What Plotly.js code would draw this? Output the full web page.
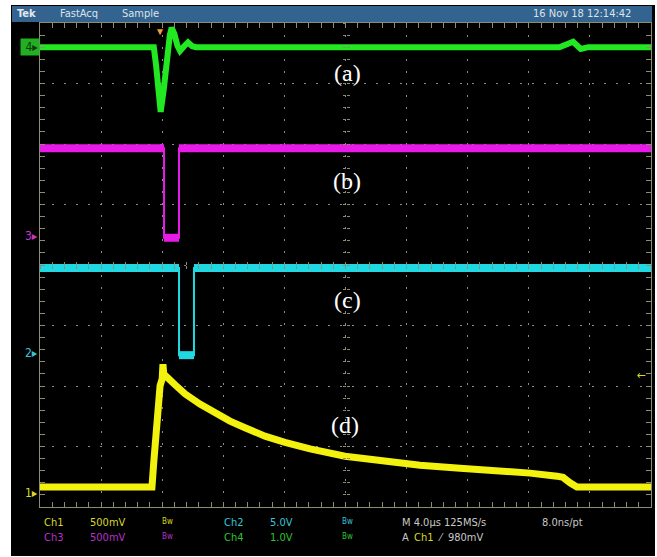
<!DOCTYPE html>
<html>
<head>
<meta charset="utf-8">
<script src="https://cdn.plot.ly/plotly-3.0.1.min.js"></script>
<style>html,body{margin:0;padding:0;background:#fff;}#chart{width:657px;height:557px;}</style>
</head>
<body>
<div id="chart"></div>
<script>
// Time axis: microseconds from the left edge of the screen (4.0 us/div, 10 div)
// Vertical axis: screen divisions from the bottom (8 div)

// (a) Ch4 - green
const ch4Time = [0, 7.45, 7.6, 7.75, 7.9, 8.1, 8.3, 8.5, 8.62, 8.8, 9.0, 9.17, 9.45, 9.69, 9.95, 10.2, 34.0, 34.5, 34.9, 35.4, 35.9, 40];
const ch4Div  = [7.6, 7.6, 7.3, 6.9, 6.53, 6.9, 7.4, 7.8, 7.92, 7.82, 7.62, 7.54, 7.62, 7.68, 7.62, 7.6, 7.6, 7.66, 7.69, 7.57, 7.6, 7.6];

// (b) Ch3 - magenta
const ch3Time = [0, 8.12, 8.12, 9.10, 9.10, 40];
const ch3Div  = [5.93, 5.93, 4.45, 4.45, 5.93, 5.93];

// (c) Ch2 - cyan
const ch2Time = [0, 9.10, 9.10, 10.08, 10.08, 40];
const ch2Div  = [3.95, 3.95, 2.51, 2.51, 3.95, 3.95];

// (d) Ch1 - yellow
const ch1Time = [0, 7.33, 7.45, 7.65, 7.86, 8.0, 8.05, 8.12, 8.18, 8.84, 9.49, 10.47, 11.46, 12.44, 13.42, 14.73, 16.04, 17.68, 19.97, 22.26, 24.88, 27.50, 30.12, 32.08, 33.85, 34.24, 34.70, 35.15, 40];
const ch1Div  = [0.33, 0.33, 0.75, 1.45, 2.0, 2.12, 2.36, 2.14, 2.18, 2.02, 1.87, 1.70, 1.55, 1.42, 1.31, 1.17, 1.07, 0.96, 0.84, 0.76, 0.69, 0.64, 0.60, 0.56, 0.51, 0.49, 0.40, 0.33, 0.33];

const panelLabels = ["(a)", "(b)", "(c)", "(d)"];

const C = {green:'#22e822', magenta:'#e81ae8', cyan:'#1fd8e2', yellow:'#f2f20e'};

function levels(t, v){
  // horizontal (flat) segments of a step trace, separated by gaps
  const xs=[], ys=[];
  for(let i=0;i<t.length-1;i++){
    if(v[i]===v[i+1]){ xs.push(t[i],t[i+1],null); ys.push(v[i],v[i+1],null); }
  }
  return {xs, ys};
}
const m = levels(ch3Time, ch3Div), c = levels(ch2Time, ch2Div);

const traces = [
  {x:ch4Time, y:ch4Div, mode:'lines', line:{color:C.green, width:6}},
  {x:ch3Time, y:ch3Div, mode:'lines', line:{color:C.magenta, width:2}},
  {x:m.xs, y:m.ys, mode:'lines', line:{color:C.magenta, width:8}, connectgaps:false},
  {x:ch2Time, y:ch2Div, mode:'lines', line:{color:C.cyan, width:2}},
  {x:c.xs, y:c.ys, mode:'lines', line:{color:C.cyan, width:8}, connectgaps:false},
  {x:ch1Time, y:ch1Div, mode:'lines', line:{color:C.yellow, width:7}},
  // dummy traces to activate the centre-cross tick axes
  {x:[null], y:[null], xaxis:'x2', yaxis:'y'},
  {x:[null], y:[null], xaxis:'x3', yaxis:'y'},
  {x:[null], y:[null], xaxis:'x', yaxis:'y2'},
  {x:[null], y:[null], xaxis:'x', yaxis:'y3'}
].map(t=>Object.assign({hoverinfo:'skip', showlegend:false, type:'scatter'}, t));

const frameCol = '#8c8c72', gridCol = '#8a8a8a';
const centerAxis = (extra)=>Object.assign({showgrid:false, zeroline:false, showline:false, showticklabels:false, ticklen:3, tickcolor:frameCol, tickwidth:1, fixedrange:true, anchor:'free', position:0.5}, extra);

const PX = x=>(x-40)/611, PY = y=>(507-y)/484;
const font = 'Liberation Sans Narrow, DejaVu Sans Condensed, Liberation Sans, sans-serif';
function txt(x,y,text,color,size,anchor){
  return {xref:'paper', yref:'paper', x:PX(x), y:PY(y), text:text, showarrow:false, xanchor:anchor||'left', yanchor:'middle', font:{family:font, size:size||11, color:color}};
}

const annotations = [
  txt(15,14,'<b>Tek</b>','#e4e8ee',11),
  txt(58,14,'FastAcq','#dde3ea',11),
  txt(120,14,'Sample','#dde3ea',11),
  txt(633,14,'16 Nov 18 12:14:42','#dde3ea',11,'right'),
  // bottom readout
  txt(42,522,'Ch1','#d8d82a',11), txt(88,522,'500mV','#d8d82a',11), txt(160,521,'Bw','#d8d82a',8),
  txt(222,522,'Ch2','#38c4d4',11), txt(268,522,'5.0V','#38c4d4',11), txt(340,521,'Bw','#38c4d4',8),
  txt(400,522,'M 4.0µs 125MS/s','#c8c8c8',11), txt(540,522,'8.0ns/pt','#c8c8c8',11),
  txt(42,537,'Ch3','#b832c8',11), txt(88,537,'500mV','#b832c8',11), txt(160,536,'Bw','#b832c8',8),
  txt(222,537,'Ch4','#32c032',11), txt(268,537,'1.0V','#32c032',11), txt(340,536,'Bw','#32c032',8),
  txt(400,537,'A','#c8c8c8',11), txt(412,537,'Ch1','#d8d82a',11), txt(436,537,'⁄  980mV','#c8c8c8',11),
  // channel ground markers
  {xref:'paper', yref:'paper', x:PX(40), y:PY(47), text:' 4▸', showarrow:false, xanchor:'right', yanchor:'middle', bgcolor:'#22b022', borderpad:1, font:{family:font, size:12, color:'#0b3a0b'}},
  txt(40,236,'3▸','#c03ac8',12,'right'),
  txt(40,353,'2▸','#38c4d4',12,'right'),
  txt(40,493,'1▸','#d8d82a',12,'right'),
  // trigger markers
  {xref:'paper', yref:'paper', x:PX(160), y:PY(22), text:'▼', showarrow:false, xanchor:'center', yanchor:'top', font:{size:10, color:'#f0a030'}},
  txt(648,375,'←','#d8d82a',12,'right')
];
const labelPos = [[347,73],[347,181],[347,300],[345,425]];
panelLabels.forEach((s,i)=>annotations.push({xref:'paper', yref:'paper', x:PX(labelPos[i][0]), y:PY(labelPos[i][1]), text:s, showarrow:false, xanchor:'center', yanchor:'middle', font:{family:'Liberation Serif, DejaVu Serif, serif', size:24, color:'#ffffff'}}));

const layout = {
  width:657, height:557,
  margin:{l:40, r:6, t:23, b:50, pad:0},
  paper_bgcolor:'#ffffff', plot_bgcolor:'rgba(0,0,0,0)',
  showlegend:false,
  xaxis:{range:[0,40], dtick:4, tick0:0, showgrid:true, gridcolor:gridCol, griddash:'2px,10px', gridwidth:1,
         ticks:'inside', ticklen:5, tickcolor:frameCol, minor:{dtick:0.8, ticks:'inside', ticklen:3, tickcolor:frameCol, showgrid:false},
         showline:true, linecolor:frameCol, linewidth:1, mirror:'allticks', showticklabels:false, zeroline:false, fixedrange:true},
  yaxis:{range:[0,8], dtick:1, tick0:0, showgrid:true, gridcolor:gridCol, griddash:'2px,10px', gridwidth:1,
         ticks:'inside', ticklen:5, tickcolor:frameCol, minor:{dtick:0.2, ticks:'inside', ticklen:3, tickcolor:frameCol, showgrid:false},
         showline:true, linecolor:frameCol, linewidth:1, mirror:'allticks', showticklabels:false, zeroline:false, fixedrange:true},
  xaxis2:centerAxis({overlaying:'x', range:[0,40], dtick:0.8, tick0:0, ticks:'outside'}),
  xaxis3:centerAxis({overlaying:'x', range:[0,40], dtick:0.8, tick0:0, ticks:'inside'}),
  yaxis2:centerAxis({overlaying:'y', range:[0,8], dtick:0.2, tick0:0, ticks:'outside'}),
  yaxis3:centerAxis({overlaying:'y', range:[0,8], dtick:0.2, tick0:0, ticks:'inside'}),
  shapes:[
    {type:'rect', xref:'paper', yref:'paper', x0:PX(11), x1:PX(655), y0:PY(556), y1:PY(5), fillcolor:'#000000', line:{width:0}, layer:'below'},
    {type:'rect', xref:'paper', yref:'paper', x0:PX(12), x1:PX(652), y0:PY(22), y1:PY(6), fillcolor:'#33648f', line:{width:0}, layer:'below'}
  ],
  annotations:annotations
};

Plotly.newPlot('chart', traces, layout, {displayModeBar:false, staticPlot:true});
</script>
</body>
</html>
